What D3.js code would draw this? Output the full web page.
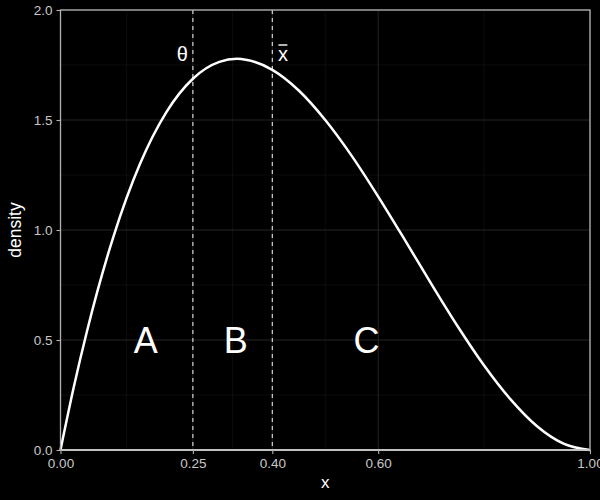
<!DOCTYPE html>
<html><head><meta charset="utf-8">
<script src="https://cdn.jsdelivr.net/npm/d3@7"></script>
<style>html,body{margin:0;padding:0;background:#000;}svg{display:block;}</style>
</head><body>
<svg id="c" width="600" height="500"></svg>
<script>
const xs = [0,0.025,0.05,0.1,0.15,0.2,0.25,0.3,0.3333,0.35,0.4,0.45,0.5,0.55,0.6,0.65,0.7,0.75,0.8,0.85,0.9,0.95,1];
const ys = [0,0.285,0.54,0.97,1.30,1.536,1.6875,1.764,1.778,1.774,1.728,1.634,1.5,1.337,1.152,0.956,0.756,0.5625,0.384,0.23,0.108,0.029,0];
const xTicks = [0,0.25,0.4,0.6,1];
const xMinor = [0.125,0.325,0.5,0.8];
const yTicks = [0,0.5,1,1.5,2];
const yMinor = [0.25,0.75,1.25,1.75];
const vlines = [0.25,0.4];
const regionLabels = ["A","B","C"];
const regionX = [0.161,0.331,0.578];
const regionY = 0.5;
const markLabels = ["θ","x"];
const markX = [0.23,0.42];
const markY = 1.8;

const svg = d3.select("#c");
const L=60.5,R=590,T=10,B=450;
const x = d3.scaleLinear().domain([0,1]).range([L,R]);
const y = d3.scaleLinear().domain([0,2]).range([B,T]);
const font = "Liberation Sans, Arial, Helvetica, sans-serif";

svg.append("rect").attr("width",600).attr("height",500).attr("fill","#000");
const g = svg.append("g");
// minor grid
g.selectAll(".xm").data(xMinor).join("line").attr("x1",d=>x(d)).attr("x2",d=>x(d)).attr("y1",T).attr("y2",B).attr("stroke","#161616").attr("stroke-width",0.6);
g.selectAll(".ym").data(yMinor).join("line").attr("y1",d=>y(d)).attr("y2",d=>y(d)).attr("x1",L).attr("x2",R).attr("stroke","#161616").attr("stroke-width",0.6);
// major grid
g.selectAll(".xM").data(xTicks).join("line").attr("x1",d=>x(d)).attr("x2",d=>x(d)).attr("y1",T).attr("y2",B).attr("stroke","#242424").attr("stroke-width",1);
g.selectAll(".yM").data(yTicks).join("line").attr("y1",d=>y(d)).attr("y2",d=>y(d)).attr("x1",L).attr("x2",R).attr("stroke","#242424").attr("stroke-width",1);

// dashed lines
g.selectAll(".vl").data(vlines).join("line").attr("x1",d=>x(d)).attr("x2",d=>x(d)).attr("y1",T).attr("y2",B)
 .attr("stroke","#e6e6e6").attr("stroke-width",1.1).attr("stroke-dasharray","4,4");

// baseline
g.append("line").attr("x1",L).attr("x2",R).attr("y1",y(0)).attr("y2",y(0)).attr("stroke","#d9d9d9").attr("stroke-width",2);

// curve
const pts = xs.map((d,i)=>[d,ys[i]]);
g.append("path").datum(pts).attr("d",d3.line().x(d=>x(d[0])).y(d=>y(d[1])).curve(d3.curveMonotoneX))
 .attr("fill","none").attr("stroke","#fff").attr("stroke-width",2.5);

// panel border
g.append("rect").attr("x",L).attr("y",T).attr("width",R-L).attr("height",B-T).attr("fill","none").attr("stroke","#b3b3b3").attr("stroke-width",1.3);

// axes
const xa = svg.append("g").attr("transform",`translate(0,${B})`).call(d3.axisBottom(x).tickValues(xTicks).tickFormat(d3.format(".2f")).tickSize(4).tickPadding(4.5));
const ya = svg.append("g").attr("transform",`translate(${L},0)`).call(d3.axisLeft(y).tickValues(yTicks).tickFormat(d3.format(".1f")).tickSize(4).tickPadding(4));
[xa,ya].forEach(a=>{
  a.select(".domain").remove();
  a.selectAll(".tick line").attr("stroke","#b3b3b3").attr("stroke-width",1.1);
  a.selectAll(".tick text").attr("fill","#c8c8c8").attr("font-size",13.5).attr("font-family",font);
});

// region labels
svg.selectAll(".rl").data(regionLabels).join("text").attr("x",(d,i)=>x(regionX[i])).attr("y",y(regionY)).attr("dy","0.35em")
 .attr("text-anchor","middle").attr("fill","#fff").attr("font-size",36).attr("font-family",font).text(d=>d);

// mark labels
svg.selectAll(".ml").data(markLabels).join("text").attr("x",(d,i)=>x(markX[i])).attr("y",y(markY)).attr("dy","0.35em")
 .attr("text-anchor","middle").attr("fill","#fff").attr("font-size",20).attr("font-family",font).text(d=>d)
 .each(function(d,i){
   if(i===1){
     const bb=this.getBBox();
     svg.append("line").attr("x1",bb.x+0.5).attr("x2",bb.x+bb.width-0.5).attr("y1",bb.y+2).attr("y2",bb.y+2).attr("stroke","#fff").attr("stroke-width",1.4);
   }
 });

// axis titles
svg.append("text").attr("x",(L+R)/2).attr("y",488).attr("text-anchor","middle").attr("fill","#fff").attr("font-size",17).attr("font-family",font).text("x");
svg.append("text").attr("transform",`translate(21,${(T+B)/2}) rotate(-90)`).attr("text-anchor","middle").attr("fill","#fff").attr("font-size",17.5).attr("font-family",font).text("density");
</script>
</body></html>
